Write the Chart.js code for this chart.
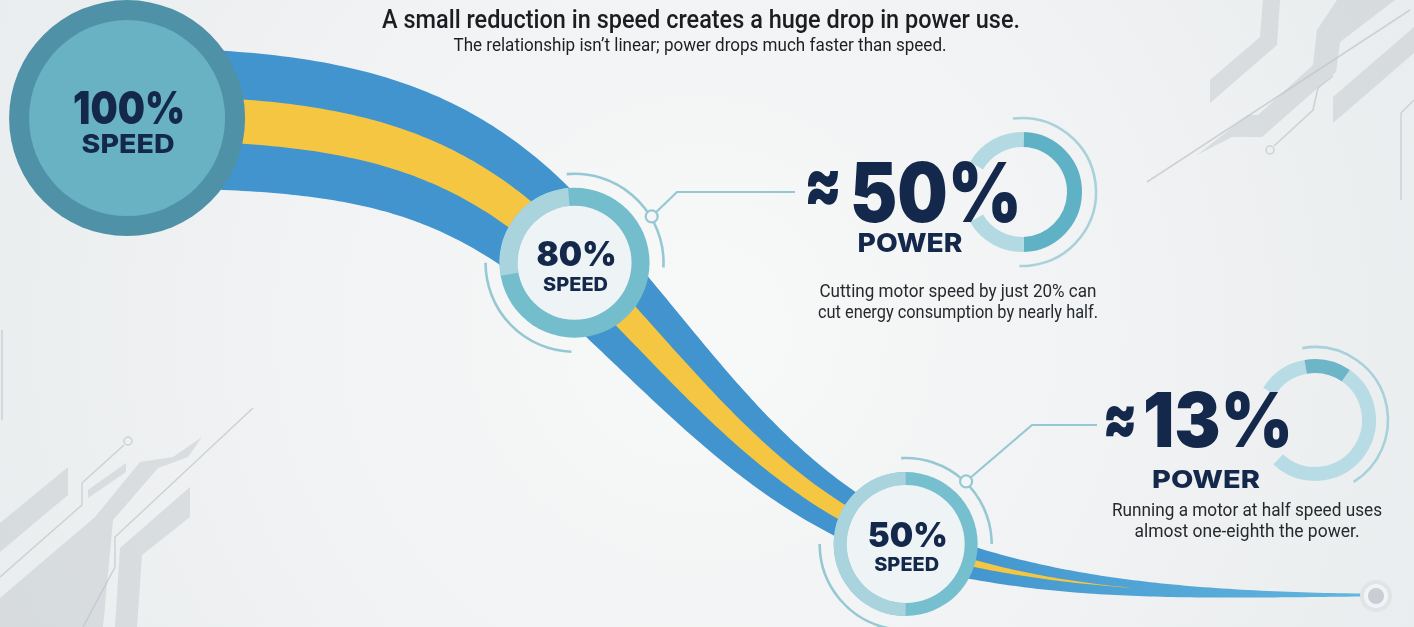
<!DOCTYPE html>
<html><head><meta charset="utf-8">
<script src="https://cdn.jsdelivr.net/npm/chart.js@4.4.1/dist/chart.umd.min.js"></script>
<style>html,body{margin:0;padding:0;background:#f2f4f5;overflow:hidden}#wrap{width:1414px;height:627px;position:relative}canvas{display:block}</style>
</head><body><div id="wrap"><canvas id="c" width="1414" height="627"></canvas></div>
<script>
// ---------- data ----------
const titleText = 'A small reduction in speed creates a huge drop in power use.';
const subtitleText = 'The relationship isn’t linear; power drops much faster than speed.';
const speedPct = [100, 80, 50];
const powerPct = [100, 50, 13];
const speedLabels = ['100%', '80%', '50%'];
const powerLabels = ['100%', '50%', '13%'];
const speedWord = 'SPEED';
const powerWord = 'POWER';
const approxSign = '≈';
const noteLines = [
  [],
  ['Cutting motor speed by just 20% can', 'cut energy consumption by nearly half.'],
  ['Running a motor at half speed uses', 'almost one-eighth the power.']
];

// ---------- style / layout ----------
const NAVY = '#13284a';
const BODY = '#26292d';
const BIG = 'Inter, "Noto Sans", sans-serif';
const TXT = 'Roboto, "Noto Sans", sans-serif';
const nodeStyle = [
  {r:118, ring:20, ringColor:'#4f91a6', inner:'#69b2c4', segs:[], numSize:46, numW:112, numDy:6, lblSize:26, lblW:93, lblDy:35},
  {r:75, ring:18, ringColor:'#74bdcd', inner:'#eef3f5', segs:[[170,265,'#a9d4de']], numSize:34, numW:80, numDy:3, lblSize:19, lblW:65, lblDy:28,
    arcs:{r:89, spans:[[-95,3],[92,180]]}, conn:{ang:-31, r:90, pts:[[677,192],[795,192]]}},
  {r:72, ring:13, ringColor:'#76bfcf', inner:'#eef3f5', segs:[[90,270,'#a9d3dd']], numSize:34, numW:80, numDy:3, lblSize:19, lblW:65, lblDy:27,
    arcs:{r:86, spans:[[-93,0],[100,180]]}, conn:{ang:-46, r:87, pts:[[1032,425],[1097,425]]}}
];
const callouts = [null,
  {ring:{cx:1022, cy:192, r:60, w:15, spans:[[-150,-88,'#b3d9e2'],[-88,88,'#5fb2c5'],[88,150,'#b3d9e2']], thin:{r:74, a0:-97, a1:92}},
   approx:{cx:823, cy:188, size:72, w:38}, num:{cx:936, base:222, size:82, w:172},
   power:{cx:910, base:252, size:26, w:105}, notes:{cx:958, base:[297,318], size:17.5, w:[277,280]}},
  {ring:{cx:1315, cy:420, r:61, w:14, spans:[[-148,-100,'#b8dce5'],[-100,-55,'#6cb6c8'],[-55,133,'#b8dce5']], thin:{r:73, a0:-100, a1:58}},
   approx:{cx:1120, cy:421, size:66, w:35}, num:{cx:1218, base:447, size:76, w:150},
   power:{cx:1206, base:488, size:25, w:108}, notes:{cx:1247, base:[516,537], size:17.5, w:[270,225]}}
];
const RIBBON_W0 = 140, RIBBON_EXP = 1.8, YELLOW_FRAC = 0.32;

const D = a => a*Math.PI/180;
function poly(ctx, pts){ctx.beginPath();pts.forEach((p,i)=>i?ctx.lineTo(p[0],p[1]):ctx.moveTo(p[0],p[1]));ctx.closePath();ctx.fill();}
function pline(ctx, pts){ctx.beginPath();pts.forEach((p,i)=>i?ctx.lineTo(p[0],p[1]):ctx.moveTo(p[0],p[1]));ctx.stroke();}
function fitText(ctx, txt, cx, base, size, weight, family, color, targetW){
  ctx.save();
  ctx.font = weight+' '+size+'px '+family;
  const w = ctx.measureText(txt).width;
  const s = targetW ? targetW / w : 1;
  ctx.translate(cx, base); ctx.scale(s,1);
  ctx.textAlign='center'; ctx.textBaseline='alphabetic'; ctx.fillStyle=color;
  ctx.fillText(txt, 0, 0); ctx.restore();
}
function centerGlyph(ctx, txt, cx, cy, size, weight, family, color, targetW){
  ctx.save();
  ctx.font = weight+' '+size+'px '+family;
  const m = ctx.measureText(txt);
  const s = targetW ? targetW / m.width : 1;
  const base = cy + (m.actualBoundingBoxAscent - m.actualBoundingBoxDescent)/2;
  ctx.translate(cx, base); ctx.scale(s,1);
  ctx.textAlign='center'; ctx.fillStyle=color; ctx.fillText(txt,0,0); ctx.restore();
}
function bez(p0,c1,c2,p1,t){const u=1-t;return{x:u*u*u*p0.x+3*u*u*t*c1.x+3*u*t*t*c2.x+t*t*t*p1.x,y:u*u*u*p0.y+3*u*u*t*c1.y+3*u*t*t*c2.y+t*t*t*p1.y};}
function bezD(p0,c1,c2,p1,t){const u=1-t;return{x:3*u*u*(c1.x-p0.x)+6*u*t*(c2.x-c1.x)+3*t*t*(p1.x-c2.x),y:3*u*u*(c1.y-p0.y)+6*u*t*(c2.y-c1.y)+3*t*t*(p1.y-c2.y)};}

const bgPlugin = {
  id:'bg',
  beforeDraw(chart){
    const {ctx,width,height} = chart;
    ctx.save();
    const g = ctx.createRadialGradient(700,330,60,700,330,820);
    g.addColorStop(0,'#f7f8f8'); g.addColorStop(1,'#e9ecee');
    ctx.fillStyle=g; ctx.fillRect(0,0,width,height);
    ctx.fillStyle='rgba(196,201,206,0.5)';
    ctx.strokeStyle='rgba(190,196,201,0.7)'; ctx.lineWidth=1.5;
    // bottom-left circuit
    poly(ctx,[[0,523],[68,467],[68,495],[0,552]]);
    poly(ctx,[[0,627],[0,598],[95,517],[140,462],[173,457],[202,437],[188,457],[158,468],[113,520],[103,627]]);
    poly(ctx,[[120,548],[190,487],[190,517],[142,555],[137,627],[115,627]]);
    poly(ctx,[[88,498],[88,490],[126,463],[126,472]]);
    pline(ctx,[[0,577],[82,505],[82,483],[124,445]]);
    ctx.beginPath(); ctx.arc(128,441,4,0,Math.PI*2); ctx.stroke();
    pline(ctx,[[253,408],[115,537],[115,567],[83,627]]);
    // top-right circuit
    poly(ctx,[[1210,80],[1260,37],[1263,0],[1280,0],[1277,45],[1210,103]]);
    poly(ctx,[[1197,155],[1248,115],[1258,115],[1313,65],[1317,30],[1337,0],[1395,0],[1340,42],[1336,72],[1262,137],[1232,137]]);
    poly(ctx,[[1333,123],[1333,97],[1414,27],[1414,53]]);
    pline(ctx,[[1274,146],[1313,110],[1318,88],[1333,76]]);
    ctx.beginPath(); ctx.arc(1270,150,4,0,Math.PI*2); ctx.stroke();
    pline(ctx,[[1147,182],[1410,10]]);
    pline(ctx,[[1414,100],[1401,113],[1401,200]]);
    pline(ctx,[[2,330],[2,420]]);
    ctx.restore();
  }
};

const infoPlugin = {
  id:'info',
  afterDatasetsDraw(chart){
    const {ctx, chartArea} = chart;
    const pts = chart.getDatasetMeta(0).data.map(e=>({x:e.x,y:e.y}));
    const tail = {x: chartArea.right - 52, y: pts[2].y + 51};
    ctx.save();
    // ---- ribbon ----
    const widths = speedPct.map(s => RIBBON_W0*Math.pow(s/100, RIBBON_EXP));
    const dist=(a,b)=>Math.hypot(b.x-a.x,b.y-a.y);
    const dir=(a)=>({x:Math.cos(D(a)),y:Math.sin(D(a))});
    const segs=[];
    {const p0=pts[0],p1=pts[1],L=dist(p0,p1),d1=dir(45);
     segs.push({p0,c1:{x:p0.x+0.5*(p1.x-p0.x),y:p0.y},c2:{x:p1.x-0.35*L*d1.x,y:p1.y-0.35*L*d1.y},p1,
       w:t=>widths[0]+(widths[1]-widths[0])*t*t, yf:t=>YELLOW_FRAC});}
    {const p0=pts[1],p1=pts[2],L=dist(p0,p1),a=dir(45),b=dir(22);
     segs.push({p0,c1:{x:p0.x+0.35*L*a.x,y:p0.y+0.35*L*a.y},c2:{x:p1.x-0.35*L*b.x,y:p1.y-0.35*L*b.y},p1,
       w:t=>widths[1]+(widths[2]-widths[1])*t, yf:t=>YELLOW_FRAC});}
    {const p0=pts[2],p1=tail,L=dist(p0,p1),a=dir(18);
     segs.push({p0,c1:{x:p0.x+0.3*L*a.x,y:p0.y+0.3*L*a.y},c2:{x:p1.x-0.45*L,y:p1.y},p1,
       w:t=>3+(widths[2]-3)*Math.pow(1-t,1.3), yf:t=>Math.max(0,YELLOW_FRAC*(1-t/0.58))});}
    const S=[];
    segs.forEach((sg,k)=>{
      const N=80;
      for(let i=(k?1:0);i<=N;i++){const t=i/N;const p=bez(sg.p0,sg.c1,sg.c2,sg.p1,t);const d=bezD(sg.p0,sg.c1,sg.c2,sg.p1,t);
        const l=Math.hypot(d.x,d.y)||1;S.push({x:p.x,y:p.y,nx:-d.y/l,ny:d.x/l,w:sg.w(t),yf:sg.yf(t)});}
    });
    function band(frac){
      ctx.beginPath();
      S.forEach((s,i)=>{const h=s.w*frac(s)/2;const x=s.x+s.nx*h,y=s.y+s.ny*h;i?ctx.lineTo(x,y):ctx.moveTo(x,y);});
      for(let i=S.length-1;i>=0;i--){const s=S[i];const h=s.w*frac(s)/2;ctx.lineTo(s.x-s.nx*h,s.y-s.ny*h);}
      ctx.closePath();ctx.fill();
    }
    const bg=ctx.createLinearGradient(940,0,tail.x,0);
    bg.addColorStop(0,'#4194cd'); bg.addColorStop(1,'#62b6de');
    ctx.fillStyle=bg; band(()=>1);
    ctx.fillStyle='#f4c642'; band(s=>s.yf);
    // tail marker
    ctx.fillStyle='#e1e4e7'; ctx.beginPath(); ctx.arc(tail.x+14,tail.y+1,16,0,Math.PI*2); ctx.fill();
    ctx.fillStyle='#f1f3f4'; ctx.beginPath(); ctx.arc(tail.x+14,tail.y+1,12,0,Math.PI*2); ctx.fill();
    ctx.fillStyle='#c9ced4'; ctx.beginPath(); ctx.arc(tail.x+14,tail.y+1,8,0,Math.PI*2); ctx.fill();

    // ---- nodes ----
    pts.forEach((p,i)=>{
      const st=nodeStyle[i];
      ctx.lineCap='butt';
      if(st.arcs){
        ctx.strokeStyle='#96c8d4'; ctx.lineWidth=2.6;
        st.arcs.spans.forEach(sp=>{ctx.beginPath();ctx.arc(p.x,p.y,st.arcs.r,D(sp[0]),D(sp[1]));ctx.stroke();});
        const cx=p.x+st.conn.r*Math.cos(D(st.conn.ang)), cy=p.y+st.conn.r*Math.sin(D(st.conn.ang));
        ctx.lineWidth=2.2;
        const a0=Math.atan2(st.conn.pts[0][1]-cy, st.conn.pts[0][0]-cx);
        pline(ctx,[[cx+6*Math.cos(a0),cy+6*Math.sin(a0)],...st.conn.pts]);
        ctx.fillStyle='#f3f5f6'; ctx.beginPath(); ctx.arc(cx,cy,6,0,Math.PI*2); ctx.fill(); ctx.stroke();
      }
      ctx.fillStyle=st.ringColor; ctx.beginPath(); ctx.arc(p.x,p.y,st.r,0,Math.PI*2); ctx.fill();
      st.segs.forEach(sg=>{ctx.strokeStyle=sg[2]; ctx.lineWidth=st.ring; ctx.beginPath(); ctx.arc(p.x,p.y,st.r-st.ring/2,D(sg[0]),D(sg[1])); ctx.stroke();});
      ctx.fillStyle=st.inner; ctx.beginPath(); ctx.arc(p.x,p.y,st.r-st.ring,0,Math.PI*2); ctx.fill();
      fitText(ctx, speedLabels[i], p.x+2, p.y+st.numDy, st.numSize, 900, BIG, NAVY, st.numW);
      fitText(ctx, speedWord, p.x+1, p.y+st.lblDy, st.lblSize, 800, BIG, NAVY, st.lblW);
    });

    // ---- power callouts ----
    callouts.forEach((c,i)=>{
      if(!c) return;
      const R=c.ring;
      ctx.strokeStyle='#a8d1db'; ctx.lineWidth=2.6;
      ctx.beginPath(); ctx.arc(R.cx,R.cy,R.thin.r,D(R.thin.a0),D(R.thin.a1)); ctx.stroke();
      ctx.lineWidth=R.w;
      R.spans.forEach(sp=>{ctx.strokeStyle=sp[2]; ctx.beginPath(); ctx.arc(R.cx,R.cy,R.r-R.w/2,D(sp[0]),D(sp[1])); ctx.stroke();});
      centerGlyph(ctx, approxSign, c.approx.cx, c.approx.cy, c.approx.size, 900, BIG, NAVY, c.approx.w);
      fitText(ctx, powerLabels[i], c.num.cx, c.num.base, c.num.size, 900, BIG, NAVY, c.num.w);
      fitText(ctx, powerWord, c.power.cx, c.power.base, c.power.size, 800, BIG, NAVY, c.power.w);
      noteLines[i].forEach((ln,k)=>fitText(ctx, ln, c.notes.cx, c.notes.base[k], c.notes.size, 400, TXT, BODY, c.notes.w[k]));
    });

    // ---- titles ----
    fitText(ctx, titleText, 701, 28, 25, 500, TXT, '#1b1d20', 638);
    fitText(ctx, subtitleText, 700, 51, 18, 400, TXT, '#1d1f22', 493);
    ctx.restore();
  }
};

new Chart(document.getElementById('c'), {
  type:'scatter',
  data:{datasets:[{
    label:'Speed vs power',
    data: speedPct.map((s,i)=>({x:powerPct[i], y:powerPct[i], speed:s})),
    pointRadius:0, pointHoverRadius:0, showLine:false
  }]},
  options:{
    responsive:false, animation:false, events:[],
    layout:{padding:0},
    plugins:{legend:{display:false}, tooltip:{enabled:false}, title:{display:false}},
    scales:{
      x:{type:'linear', reverse:true, min:-43.8, max:114.2, bounds:'data', display:false},
      y:{type:'logarithmic', min:8.735, max:176.1, bounds:'data', display:false}
    }
  },
  plugins:[bgPlugin, infoPlugin]
});
</script></body></html>
